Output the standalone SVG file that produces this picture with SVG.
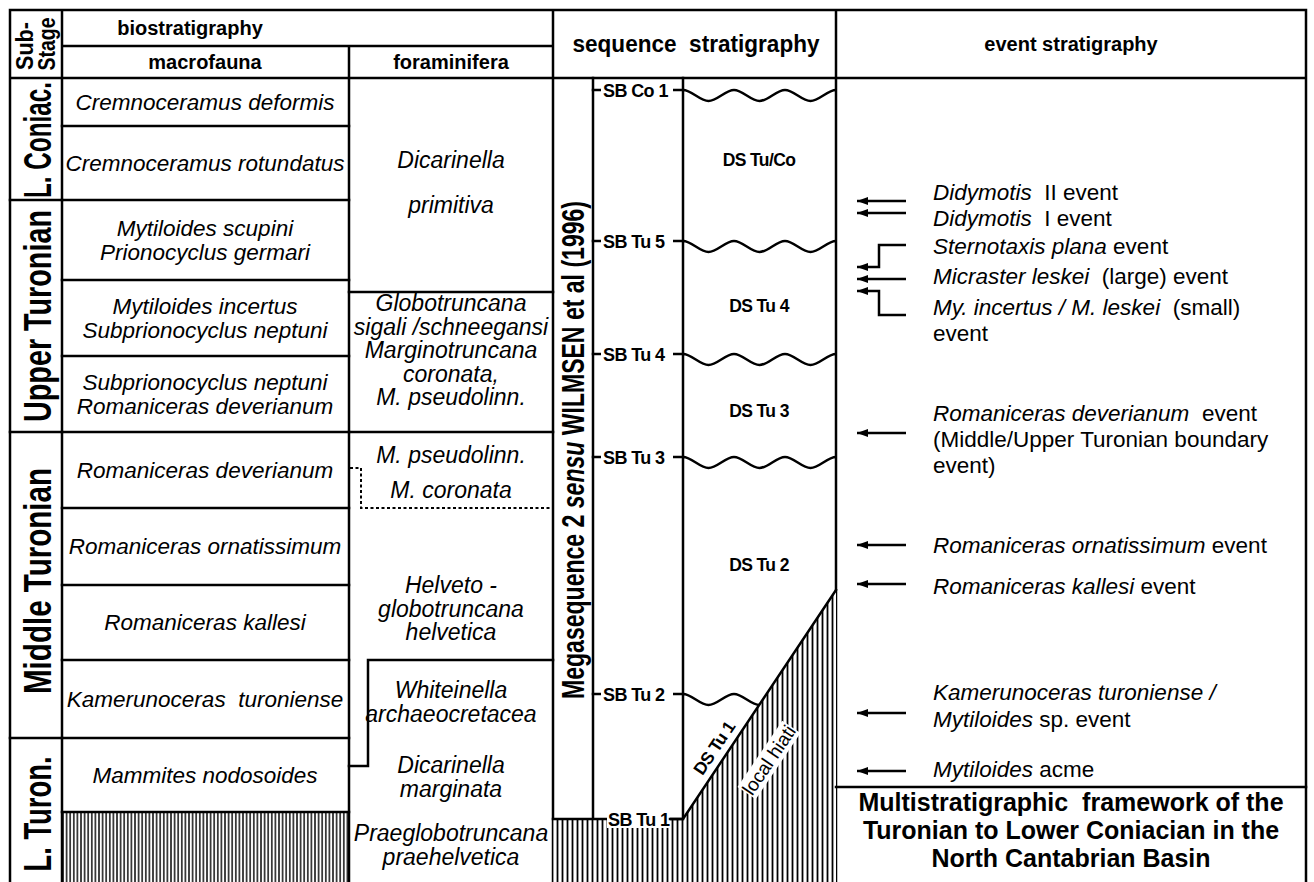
<svg xmlns="http://www.w3.org/2000/svg" width="1314" height="882" viewBox="0 0 1314 882">
<style>
text{font-family:"Liberation Sans",Arial,Helvetica,sans-serif;fill:#000}
.ln{stroke:#000;stroke-width:2.5;fill:none;stroke-linecap:square}
.dot{stroke:#000;stroke-width:2;fill:none;stroke-dasharray:3 2.5}
.tx{font-size:22.5px;font-style:italic;text-anchor:middle}
.fx{font-size:23px;font-style:italic;text-anchor:middle}
.hd{font-size:20px;font-weight:bold;text-anchor:middle}
.st{font-size:38px;font-weight:bold;text-anchor:middle}
.sb{font-size:18px;font-weight:bold;letter-spacing:-0.6px}
.ds{font-size:17.5px;font-weight:bold;text-anchor:middle;letter-spacing:-0.6px}
.ev{font-size:22.5px}
.i{font-style:italic}
.ttl{font-size:25px;font-weight:bold;text-anchor:middle}
.wave{stroke:#000;stroke-width:2.5;fill:none}
.arr{stroke:#000;stroke-width:2.5;fill:none;marker-end:url(#ah)}
</style>
<defs>
<pattern id="h1" width="3.6" height="10" patternUnits="userSpaceOnUse"><rect width="3.6" height="10" fill="#fff"/><line x1="1.8" y1="0" x2="1.8" y2="10" stroke="#000" stroke-width="1.4"/></pattern>
<pattern id="h2" width="5" height="10" patternUnits="userSpaceOnUse"><rect width="5" height="10" fill="#fff"/><line x1="2.5" y1="0" x2="2.5" y2="10" stroke="#000" stroke-width="1.8"/></pattern>
<marker id="ah" markerWidth="12" markerHeight="8" refX="11" refY="4" orient="auto" markerUnits="userSpaceOnUse"><path d="M0,0 L11,4 L0,8 z" fill="#000"/></marker>
</defs>
<rect width="1314" height="882" fill="#fff"/>

<g id="hatches">
<rect x="62" y="812" width="287" height="70" fill="url(#h1)"/>
</g>

<g id="frame">
<path class="ln" d="M10,10 H1306 M10,10 V882 M1306,10 V882 M62,10 V882 M553,10 V882 M836,10 V882 M62,46 H553 M349,46 V882 M10,78 H1306"/>
</g>

<g id="header">
<text class="hd" transform="translate(33,46) rotate(-90)" style="font-size:23px" textLength="48" lengthAdjust="spacingAndGlyphs">Sub-</text>
<text class="hd" transform="translate(55,44) rotate(-90)" style="font-size:23px" textLength="53" lengthAdjust="spacingAndGlyphs">Stage</text>
<text class="hd" x="190" y="35">biostratigraphy</text>
<text class="hd" x="205" y="69">macrofauna</text>
<text class="hd" x="451" y="69">foraminifera</text>
<text class="hd" x="696" y="52" style="font-size:23px" textLength="247" lengthAdjust="spacingAndGlyphs" xml:space="preserve">sequence  stratigraphy</text>
<text class="hd" x="1071" y="51">event stratigraphy</text>
</g>

<g id="substage">
<path class="ln" d="M10,200 H62 M10,432 H62 M10,738 H62"/>
<text class="st" transform="translate(51,140) rotate(-90)" textLength="116" lengthAdjust="spacingAndGlyphs">L. Coniac.</text>
<text class="st" transform="translate(51,316) rotate(-90)" textLength="212" lengthAdjust="spacingAndGlyphs">Upper Turonian</text>
<text class="st" transform="translate(51,581) rotate(-90)" textLength="226" lengthAdjust="spacingAndGlyphs">Middle Turonian</text>
<text class="st" transform="translate(51,814) rotate(-90)" textLength="115" lengthAdjust="spacingAndGlyphs">L. Turon.</text>
</g>

<g id="macrofauna">
<path class="ln" d="M62,126 H349 M62,200 H349 M62,280 H349 M62,356 H349 M62,432 H349 M62,508 H349 M62,585 H349 M62,660 H349 M62,738 H349 M62,812 H349"/>
<text class="tx" x="205" y="110">Cremnoceramus deformis</text>
<text class="tx" x="205" y="171">Cremnoceramus rotundatus</text>
<text class="tx" x="205" y="236">Mytiloides scupini</text>
<text class="tx" x="205" y="259.5">Prionocyclus germari</text>
<text class="tx" x="205" y="314">Mytiloides incertus</text>
<text class="tx" x="205" y="337.5">Subprionocyclus neptuni</text>
<text class="tx" x="205" y="390">Subprionocyclus neptuni</text>
<text class="tx" x="205" y="413.5">Romaniceras deverianum</text>
<text class="tx" x="205" y="478">Romaniceras deverianum</text>
<text class="tx" x="205" y="554">Romaniceras ornatissimum</text>
<text class="tx" x="205" y="630">Romaniceras kallesi</text>
<text class="tx" x="205" y="707" xml:space="preserve">Kamerunoceras  turoniense</text>
<text class="tx" x="205" y="783">Mammites nodosoides</text>
</g>

<g id="foraminifera">
<path class="ln" d="M349,292 H553 M349,432 H553 M553,660 H368 V766 H349"/>
<path class="dot" d="M350,468 H361 V508 H553"/>
<text class="fx" x="451" y="168">Dicarinella</text>
<text class="fx" x="451" y="213">primitiva</text>
<text class="fx" x="451" y="311">Globotruncana</text>
<text class="fx" x="451" y="334.5">sigali /schneegansi</text>
<text class="fx" x="451" y="358">Marginotruncana</text>
<text class="fx" x="451" y="381.5">coronata,</text>
<text class="fx" x="451" y="405">M. pseudolinn.</text>
<text class="fx" x="451" y="463">M. pseudolinn.</text>
<text class="fx" x="451" y="498">M. coronata</text>
<text class="fx" x="451" y="593">Helveto -</text>
<text class="fx" x="451" y="616.5">globotruncana</text>
<text class="fx" x="451" y="640">helvetica</text>
<text class="fx" x="451" y="698">Whiteinella</text>
<text class="fx" x="451" y="721.5">archaeocretacea</text>
<text class="fx" x="451" y="773">Dicarinella</text>
<text class="fx" x="451" y="796.5">marginata</text>
<text class="fx" x="451" y="841">Praeglobotruncana</text>
<text class="fx" x="451" y="864.5">praehelvetica</text>
</g>

<g id="sequence">
<path class="ln" d="M593,78 V819 M683,78 V819"/>
<text transform="translate(584,450) rotate(-90)" text-anchor="middle" font-weight="bold" font-size="31" textLength="498" lengthAdjust="spacingAndGlyphs">Megasequence 2 <tspan font-style="italic">sensu</tspan> WILMSEN et al (1996)</text>
<path class="wave" d="M683,90 c8.5,0 17,11 25.5,11 s17,-11 25.5,-11 s17,11 25.5,11 s17,-11 25.5,-11 s17,11 25.5,11 s17,-11 25.5,-11"/>
<path class="wave" d="M683,241 c8.5,0 17,11 25.5,11 s17,-11 25.5,-11 s17,11 25.5,11 s17,-11 25.5,-11 s17,11 25.5,11 s17,-11 25.5,-11"/>
<path class="wave" d="M683,354 c8.5,0 17,11 25.5,11 s17,-11 25.5,-11 s17,11 25.5,11 s17,-11 25.5,-11 s17,11 25.5,11 s17,-11 25.5,-11"/>
<path class="wave" d="M683,457 c8.5,0 17,11 25.5,11 s17,-11 25.5,-11 s17,11 25.5,11 s17,-11 25.5,-11 s17,11 25.5,11 s17,-11 25.5,-11"/>
<path class="wave" d="M683,694 c8.5,0 17,11 25.5,11 s17,-11 25.5,-11 s17,11 25.5,11 s17,-11 25.5,-11"/>
<polygon points="553,819 683,819 836,590 836,882 553,882" fill="url(#h2)"/>
<path class="ln" d="M553,819 H683 L836,590"/>
<path class="ln" d="M593,90 H683 M593,241 H683 M593,354 H683 M593,457 H683 M593,694 H683"/>
<rect x="601" y="80" width="72" height="20" fill="#fff"/>
<rect x="601" y="231" width="72" height="20" fill="#fff"/>
<rect x="601" y="344" width="72" height="20" fill="#fff"/>
<rect x="601" y="447" width="72" height="20" fill="#fff"/>
<rect x="601" y="684" width="72" height="20" fill="#fff"/>
<rect x="607" y="808" width="63" height="20" fill="#fff"/>
<path class="ln" d="M670,819 H683"/>
<text class="sb" x="603" y="96.5">SB Co 1</text>
<text class="sb" x="603" y="247.5">SB Tu 5</text>
<text class="sb" x="603" y="360.5">SB Tu 4</text>
<text class="sb" x="603" y="463.5">SB Tu 3</text>
<text class="sb" x="603" y="700.5">SB Tu 2</text>
<text class="sb" x="608" y="825.5">SB Tu 1</text>
<text class="ds" x="759" y="166">DS Tu/Co</text>
<text class="ds" x="759" y="312">DS Tu 4</text>
<text class="ds" x="759" y="417">DS Tu 3</text>
<text class="ds" x="759" y="571">DS Tu 2</text>
<text class="ds" transform="translate(714,748) rotate(-56)" dy=".35em">DS Tu 1</text>
<rect x="-40" y="-11" width="80" height="22" fill="#fff" transform="translate(769,760) rotate(-56)"/>
<text transform="translate(769,760) rotate(-56)" dy=".35em" text-anchor="middle" font-size="19">local hiati</text>
</g>

<g id="connectors">
<path class="arr" d="M906,201 H857"/>
<path class="arr" d="M906,213 H857"/>
<path class="arr" d="M906,245 H879 V267 H857"/>
<path class="arr" d="M906,279 H857"/>
<path class="arr" d="M906,315 H879 V291 H857"/>
<path class="arr" d="M906,433 H857"/>
<path class="arr" d="M906,545 H857"/>
<path class="arr" d="M906,584 H857"/>
<path class="arr" d="M906,713 H857"/>
<path class="arr" d="M906,771 H857"/>
</g>

<g id="events">
<text class="ev" x="933" y="200"><tspan class="i">Didymotis</tspan>&#160; II event</text>
<text class="ev" x="933" y="226"><tspan class="i">Didymotis</tspan>&#160; I event</text>
<text class="ev" x="933" y="254"><tspan class="i">Sternotaxis plana</tspan> event</text>
<text class="ev" x="933" y="284"><tspan class="i">Micraster leskei</tspan>&#160; (large) event</text>
<text class="ev" x="933" y="315"><tspan class="i">My. incertus / M. leskei</tspan>&#160; (small)</text>
<text class="ev" x="933" y="341">event</text>
<text class="ev" x="933" y="421"><tspan class="i">Romaniceras deverianum</tspan>&#160; event</text>
<text class="ev" x="933" y="447">(Middle/Upper Turonian boundary</text>
<text class="ev" x="933" y="473">event)</text>
<text class="ev" x="933" y="553"><tspan class="i">Romaniceras ornatissimum</tspan> event</text>
<text class="ev" x="933" y="594"><tspan class="i">Romaniceras kallesi</tspan> event</text>
<text class="ev" x="933" y="700"><tspan class="i">Kamerunoceras turoniense /</tspan></text>
<text class="ev" x="933" y="727"><tspan class="i">Mytiloides</tspan> sp. event</text>
<text class="ev" x="933" y="777"><tspan class="i">Mytiloides</tspan> acme</text>
</g>

<g id="title">
<path class="ln" d="M836,787 H1306"/>
<text class="ttl" x="1071" y="811" xml:space="preserve">Multistratigraphic  framework of the</text>
<text class="ttl" x="1071" y="839">Turonian to Lower Coniacian in the</text>
<text class="ttl" x="1071" y="867">North Cantabrian Basin</text>
</g>
</svg>
